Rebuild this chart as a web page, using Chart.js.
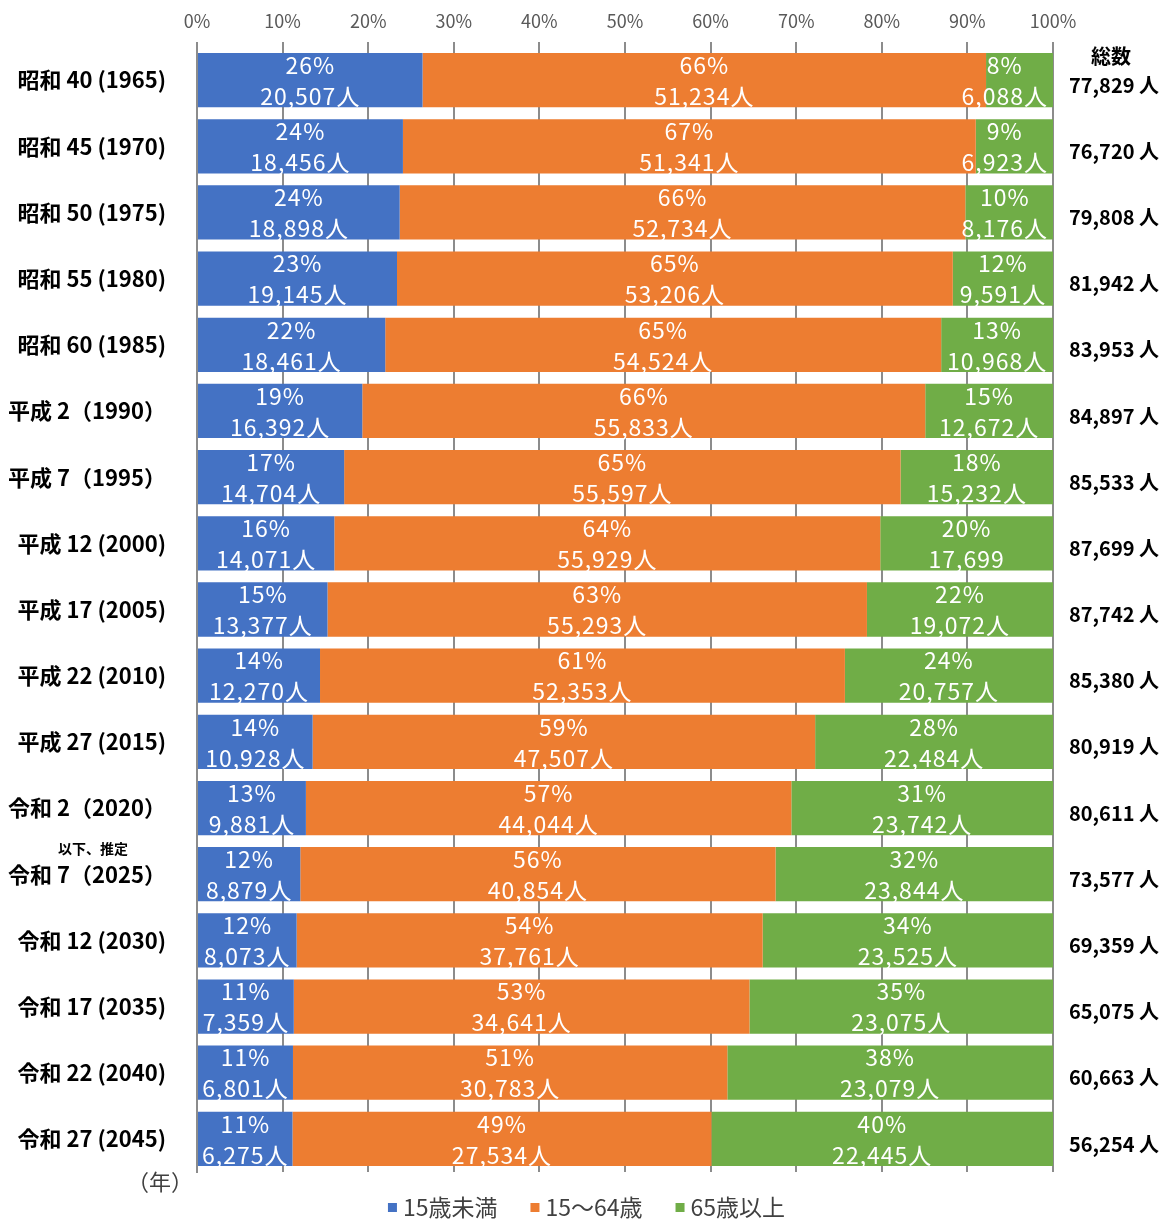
<!DOCTYPE html>
<html lang="ja">
<head>
<meta charset="utf-8">
<title>年齢3区分別人口の推移</title>
<script src="https://cdn.jsdelivr.net/npm/chart.js@4"></script>
<style>
  html, body { margin: 0; padding: 0; background: #fff; }
  #wrap { width: 1173px; height: 1219px; position: relative; }
</style>
</head>
<body>
<div id="wrap"><canvas id="popChart"></canvas></div>
<script>
// 年次
const years = [
    '昭和 40 (1965)', '昭和 45 (1970)', '昭和 50 (1975)', '昭和 55 (1980)', '昭和 60 (1985)',
    '平成 2（1990）', '平成 7（1995）', '平成 12 (2000)', '平成 17 (2005)', '平成 22 (2010)',
    '平成 27 (2015)', '令和 2（2020）', '令和 7（2025）', '令和 12 (2030)', '令和 17 (2035)',
    '令和 22 (2040)', '令和 27 (2045)'
];

// 人口（人）
const under15 = [20507, 18456, 18898, 19145, 18461, 16392, 14704, 14071, 13377, 12270, 10928, 9881, 8879, 8073, 7359, 6801, 6275];
const age15to64 = [51234, 51341, 52734, 53206, 54524, 55833, 55597, 55929, 55293, 52353, 47507, 44044, 40854, 37761, 34641, 30783, 27534];
const over65 = [6088, 6923, 8176, 9591, 10968, 12672, 15232, 17699, 19072, 20757, 22484, 23742, 23844, 23525, 23075, 23079, 22445];

// 構成比（%）表示値
const pctUnder15 = [26, 24, 24, 23, 22, 19, 17, 16, 15, 14, 14, 13, 12, 12, 11, 11, 11];
const pct15to64 = [66, 67, 66, 65, 65, 66, 65, 64, 63, 61, 59, 57, 56, 54, 53, 51, 49];
const pctOver65 = [8, 9, 10, 12, 13, 15, 18, 20, 22, 24, 28, 31, 32, 34, 35, 38, 40];

// 総数（人）
const totals = [77829, 76720, 79808, 81942, 83953, 84897, 85533, 87699, 87742, 85380, 80919, 80611, 73577, 69359, 65075, 60663, 56254];

const xTicks = [0, 10, 20, 30, 40, 50, 60, 70, 80, 90, 100];

const groupNames = ['15歳未満', '15～64歳', '65歳以上'];
const colors = ['#4472C4', '#ED7D31', '#70AD47'];

const FONT = '"Noto Sans CJK JP", "Noto Sans", sans-serif';

// 帯の長さは3区分の合計に対する割合
const shares = [under15, age15to64, over65].map(arr =>
    arr.map((v, i) => v / (under15[i] + age15to64[i] + over65[i]) * 100)
);
const counts = [under15, age15to64, over65];
const pcts = [pctUnder15, pct15to64, pctOver65];

const fmt = n => n.toLocaleString('en-US');

// 帯の中の数値ラベル、総数、凡例など
const labelPlugin = {
    id: 'labelPlugin',
    afterDatasetsDraw(chart) {
        const ctx = chart.ctx;
        const area = chart.chartArea;
        ctx.save();

        // 帯の中
        ctx.font = '23px ' + FONT;
        ctx.letterSpacing = '1px';
        ctx.fillStyle = '#fff';
        ctx.textAlign = 'center';
        ctx.textBaseline = 'middle';
        counts.forEach((arr, d) => {
            const meta = chart.getDatasetMeta(d);
            meta.data.forEach((bar, i) => {
                const unit = (d === 2 && i === 7) ? '' : '人'; // 平成12の65歳以上は単位なし
                const line1 = pcts[d][i] + '%';
                const line2 = fmt(arr[i]) + unit;
                const w = Math.max(ctx.measureText(line1).width, ctx.measureText(line2).width);
                let cx = (bar.x + bar.base) / 2;
                if (cx + w / 2 > area.right - 5) cx = area.right - 5 - w / 2;
                if (cx - w / 2 < area.left + 3) cx = area.left + 3 + w / 2;
                ctx.fillText(line1, cx, bar.y - 15);
                ctx.fillText(line2, cx, bar.y + 16);
            });
        });
        ctx.letterSpacing = '0px';

        // 総数
        const meta0 = chart.getDatasetMeta(0);
        ctx.fillStyle = '#000';
        ctx.font = 'bold 20px ' + FONT;
        ctx.fillText('総数', 1111, 56);
        totals.forEach((t, i) => {
            ctx.fillText(fmt(t) + ' 人', 1114, meta0.data[i].y + 5);
        });

        // 推計の注記
        ctx.font = 'bold 14px ' + FONT;
        ctx.fillText('以下、推定', 93, 849);

        // 年
        ctx.font = '22px ' + FONT;
        ctx.fillStyle = '#404040';
        ctx.fillText('（年）', 160, 1182);

        // 凡例
        ctx.font = '23px ' + FONT;
        ctx.textAlign = 'left';
        const box = 9, gapBox = 6, gapItem = 33;
        const widths = groupNames.map(n => box + gapBox + ctx.measureText(n).width);
        const total = widths.reduce((a, b) => a + b, 0) + gapItem * (groupNames.length - 1);
        let x = chart.width / 2 - total / 2;
        groupNames.forEach((n, k) => {
            ctx.fillStyle = colors[k];
            ctx.fillRect(x, 1203, box, box);
            ctx.fillStyle = '#404040';
            ctx.fillText(n, x + box + gapBox, 1207);
            x += widths[k] + gapItem;
        });

        ctx.restore();
    }
};

const ctx = document.getElementById('popChart').getContext('2d');
const popChart = new Chart(ctx, {
    type: 'bar',
    data: {
        labels: years,
        datasets: groupNames.map((name, k) => ({
            label: name,
            data: shares[k],
            backgroundColor: colors[k],
            borderWidth: 0,
            barPercentage: 0.82,
            categoryPercentage: 1.0
        }))
    },
    options: {
        indexAxis: 'y',
        responsive: true,
        maintainAspectRatio: false,
        animation: false,
        layout: {
            padding: { left: 0, right: 120, top: 0, bottom: 47 }
        },
        plugins: {
            legend: { display: false },
            tooltip: { enabled: false }
        },
        scales: {
            x: {
                position: 'top',
                stacked: true,
                min: 0,
                max: 100,
                afterBuildTicks: scale => {
                    scale.ticks = xTicks.map(v => ({ value: v }));
                },
                afterFit: scale => {
                    scale.height = 47;
                },
                ticks: {
                    padding: 10,
                    color: '#595959',
                    font: { family: FONT, size: 18 },
                    callback: v => v + '%'
                },
                grid: {
                    color: '#8c8c8c',
                    lineWidth: 2,
                    drawTicks: true,
                    tickLength: 5
                },
                border: { display: false }
            },
            y: {
                stacked: true,
                afterFit: scale => {
                    scale.width = 197;
                },
                ticks: {
                    padding: 31,
                    color: '#000',
                    font: { family: FONT, size: 22, weight: 'bold' }
                },
                grid: { display: false, drawTicks: false },
                border: { display: true, color: '#8c8c8c', width: 2 }
            }
        }
    },
    plugins: [labelPlugin]
});
</script>
</body>
</html>
